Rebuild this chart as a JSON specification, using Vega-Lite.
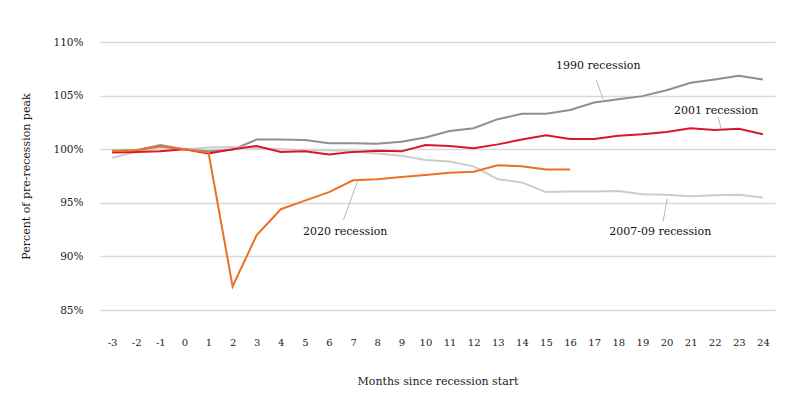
{
  "$schema": "https://vega.github.io/schema/vega-lite/v6.json",
  "width": 675,
  "height": 268,
  "autosize": {"type": "none"},
  "padding": {"left": 100, "top": 42, "right": 25, "bottom": 105},
  "background": "white",
  "config": {
    "font": "DejaVu Serif",
    "view": {"stroke": null},
    "text": {"font": "DejaVu Serif"},
    "axis": {"labelFont": "DejaVu Serif", "titleFont": "DejaVu Serif", "labelColor": "#1a1a1a", "titleColor": "#1a1a1a", "labelFontSize": 10.5, "titleFontSize": 11, "titleFontWeight": "normal"}
  },
  "datasets": {
    "series": [
      {"month": -3, "series": "1990", "value": 99.85},
      {"month": -2, "series": "1990", "value": 99.9},
      {"month": -1, "series": "1990", "value": 100.4},
      {"month": 0, "series": "1990", "value": 100.0},
      {"month": 1, "series": "1990", "value": 99.8},
      {"month": 2, "series": "1990", "value": 99.95},
      {"month": 3, "series": "1990", "value": 100.9},
      {"month": 4, "series": "1990", "value": 100.9},
      {"month": 5, "series": "1990", "value": 100.85},
      {"month": 6, "series": "1990", "value": 100.55},
      {"month": 7, "series": "1990", "value": 100.55},
      {"month": 8, "series": "1990", "value": 100.5},
      {"month": 9, "series": "1990", "value": 100.7},
      {"month": 10, "series": "1990", "value": 101.1},
      {"month": 11, "series": "1990", "value": 101.7},
      {"month": 12, "series": "1990", "value": 101.95},
      {"month": 13, "series": "1990", "value": 102.8},
      {"month": 14, "series": "1990", "value": 103.3},
      {"month": 15, "series": "1990", "value": 103.3},
      {"month": 16, "series": "1990", "value": 103.65},
      {"month": 17, "series": "1990", "value": 104.35},
      {"month": 18, "series": "1990", "value": 104.65},
      {"month": 19, "series": "1990", "value": 104.95},
      {"month": 20, "series": "1990", "value": 105.5},
      {"month": 21, "series": "1990", "value": 106.2},
      {"month": 22, "series": "1990", "value": 106.5},
      {"month": 23, "series": "1990", "value": 106.85},
      {"month": 24, "series": "1990", "value": 106.5},
      {"month": -3, "series": "2007-09", "value": 99.2},
      {"month": -2, "series": "2007-09", "value": 99.75},
      {"month": -1, "series": "2007-09", "value": 100.2},
      {"month": 0, "series": "2007-09", "value": 100.0},
      {"month": 1, "series": "2007-09", "value": 100.15},
      {"month": 2, "series": "2007-09", "value": 100.2},
      {"month": 3, "series": "2007-09", "value": 100.1},
      {"month": 4, "series": "2007-09", "value": 100.0},
      {"month": 5, "series": "2007-09", "value": 99.9},
      {"month": 6, "series": "2007-09", "value": 99.9},
      {"month": 7, "series": "2007-09", "value": 99.8},
      {"month": 8, "series": "2007-09", "value": 99.6},
      {"month": 9, "series": "2007-09", "value": 99.4},
      {"month": 10, "series": "2007-09", "value": 99.0},
      {"month": 11, "series": "2007-09", "value": 98.85},
      {"month": 12, "series": "2007-09", "value": 98.4},
      {"month": 13, "series": "2007-09", "value": 97.2},
      {"month": 14, "series": "2007-09", "value": 96.9},
      {"month": 15, "series": "2007-09", "value": 96.0},
      {"month": 16, "series": "2007-09", "value": 96.05},
      {"month": 17, "series": "2007-09", "value": 96.05},
      {"month": 18, "series": "2007-09", "value": 96.1},
      {"month": 19, "series": "2007-09", "value": 95.8},
      {"month": 20, "series": "2007-09", "value": 95.75},
      {"month": 21, "series": "2007-09", "value": 95.6},
      {"month": 22, "series": "2007-09", "value": 95.7},
      {"month": 23, "series": "2007-09", "value": 95.75},
      {"month": 24, "series": "2007-09", "value": 95.5},
      {"month": -3, "series": "2001", "value": 99.7},
      {"month": -2, "series": "2001", "value": 99.75},
      {"month": -1, "series": "2001", "value": 99.8},
      {"month": 0, "series": "2001", "value": 100.0},
      {"month": 1, "series": "2001", "value": 99.6},
      {"month": 2, "series": "2001", "value": 100.0},
      {"month": 3, "series": "2001", "value": 100.3},
      {"month": 4, "series": "2001", "value": 99.75},
      {"month": 5, "series": "2001", "value": 99.8},
      {"month": 6, "series": "2001", "value": 99.5},
      {"month": 7, "series": "2001", "value": 99.75},
      {"month": 8, "series": "2001", "value": 99.85},
      {"month": 9, "series": "2001", "value": 99.8},
      {"month": 10, "series": "2001", "value": 100.4},
      {"month": 11, "series": "2001", "value": 100.3},
      {"month": 12, "series": "2001", "value": 100.1},
      {"month": 13, "series": "2001", "value": 100.45},
      {"month": 14, "series": "2001", "value": 100.9},
      {"month": 15, "series": "2001", "value": 101.3},
      {"month": 16, "series": "2001", "value": 100.95},
      {"month": 17, "series": "2001", "value": 100.95},
      {"month": 18, "series": "2001", "value": 101.25},
      {"month": 19, "series": "2001", "value": 101.4},
      {"month": 20, "series": "2001", "value": 101.6},
      {"month": 21, "series": "2001", "value": 101.95},
      {"month": 22, "series": "2001", "value": 101.8},
      {"month": 23, "series": "2001", "value": 101.9},
      {"month": 24, "series": "2001", "value": 101.4},
      {"month": -3, "series": "2020", "value": 99.8},
      {"month": -2, "series": "2020", "value": 99.9},
      {"month": -1, "series": "2020", "value": 100.25},
      {"month": 0, "series": "2020", "value": 100.0},
      {"month": 1, "series": "2020", "value": 99.7},
      {"month": 2, "series": "2020", "value": 87.2},
      {"month": 3, "series": "2020", "value": 92.0},
      {"month": 4, "series": "2020", "value": 94.4},
      {"month": 5, "series": "2020", "value": 95.2},
      {"month": 6, "series": "2020", "value": 96.0},
      {"month": 7, "series": "2020", "value": 97.1},
      {"month": 8, "series": "2020", "value": 97.2},
      {"month": 9, "series": "2020", "value": 97.4},
      {"month": 10, "series": "2020", "value": 97.6},
      {"month": 11, "series": "2020", "value": 97.8},
      {"month": 12, "series": "2020", "value": 97.9},
      {"month": 13, "series": "2020", "value": 98.5},
      {"month": 14, "series": "2020", "value": 98.4},
      {"month": 15, "series": "2020", "value": 98.1},
      {"month": 16, "series": "2020", "value": 98.1}
    ],
    "labels": [
      {"label": "1990 recession", "lx": 17.17, "ly": 107.8, "x1": 17.08, "y1": 106.5, "x2": 17.37, "y2": 104.66},
      {"label": "2001 recession", "lx": 22.06, "ly": 103.6, "x1": 22.15, "y1": 102.95, "x2": 22.27, "y2": 101.87},
      {"label": "2020 recession", "lx": 6.67, "ly": 92.25, "x1": 6.6, "y1": 93.4, "x2": 7.2, "y2": 97.15},
      {"label": "2007-09 recession", "lx": 19.74, "ly": 92.25, "x1": 19.86, "y1": 93.3, "x2": 20.03, "y2": 95.4}
    ]
  },
  "layer": [
    {
      "data": {"name": "series"},
      "mark": {"type": "line", "strokeWidth": 2},
      "encoding": {
        "x": {
          "field": "month", "type": "ordinal",
          "scale": {"type": "point", "padding": 0.5, "domain": [-3,-2,-1,0,1,2,3,4,5,6,7,8,9,10,11,12,13,14,15,16,17,18,19,20,21,22,23,24]},
          "axis": {"labelAngle": 0, "labelOverlap": false, "grid": false, "domain": false, "ticks": false, "labelPadding": 27, "labelFontSize": 10, "title": "Months since recession start", "titlePadding": 28}
        },
        "y": {
          "field": "value", "type": "quantitative",
          "scale": {"domain": [85, 110], "nice": false, "zero": false},
          "axis": {"values": [85, 90, 95, 100, 105, 110], "labelExpr": "datum.value + '%'", "grid": true, "gridColor": "#d9d9d9", "gridWidth": 1.3, "domain": false, "ticks": false, "labelPadding": 17, "title": "Percent of pre-recession peak", "titlePadding": 21}
        },
        "color": {
          "field": "series", "type": "nominal",
          "scale": {"domain": ["1990", "2007-09", "2001", "2020"], "range": ["#8f8f8f", "#cbcbcb", "#d7182a", "#eb7125"]},
          "legend": null
        }
      }
    },
    {
      "data": {"name": "labels"},
      "mark": {"type": "rule", "color": "#a6a6a6", "strokeWidth": 0.8},
      "encoding": {
        "x": {"field": "x1", "type": "quantitative", "scale": {"domain": [-3.5, 24.5], "nice": false, "zero": false}, "axis": null},
        "y": {"field": "y1", "type": "quantitative"},
        "x2": {"field": "x2"},
        "y2": {"field": "y2"}
      }
    },
    {
      "data": {"name": "labels"},
      "mark": {"type": "text", "fontSize": 11, "color": "#111", "align": "center", "baseline": "middle"},
      "encoding": {
        "x": {"field": "lx", "type": "quantitative", "scale": {"domain": [-3.5, 24.5], "nice": false, "zero": false}, "axis": null},
        "y": {"field": "ly", "type": "quantitative"},
        "text": {"field": "label"}
      }
    }
  ],
  "resolve": {"scale": {"x": "independent"}, "axis": {"x": "independent"}}
}
